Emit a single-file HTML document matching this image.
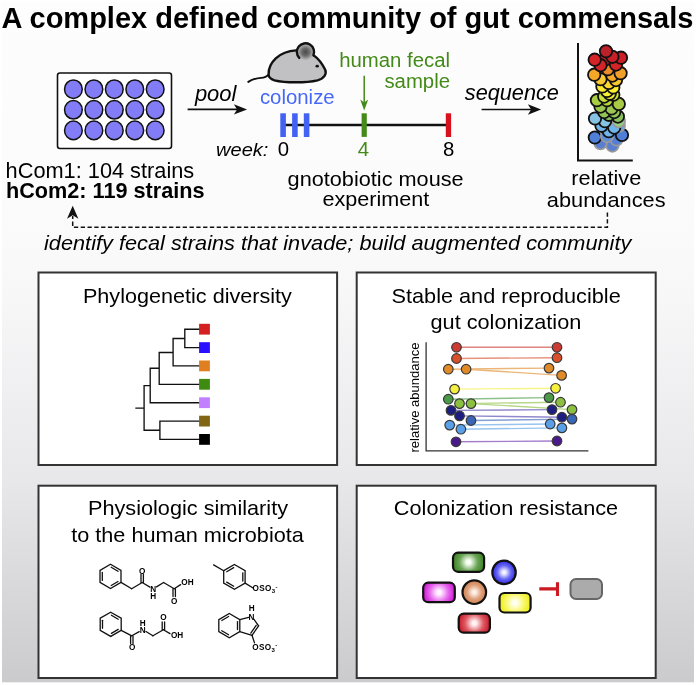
<!DOCTYPE html>
<html lang="en"><head><meta charset="utf-8"><title>A complex defined community of gut commensals</title>
<style>
html,body{margin:0;padding:0;background:#fff;}
body{width:696px;height:685px;overflow:hidden;}
svg{display:block;will-change:transform;font-family:"Liberation Sans",Arial,Helvetica,sans-serif;}
text{fill:#000;}
.t{font-size:20.85px;}
.p{font-size:20.9px;}
.s{font-size:19.5px;}
.i{font-style:italic;}
.b{font-weight:bold;}
.m{text-anchor:middle;}
.e{text-anchor:end;}
.chem{font-size:8.2px;font-weight:bold;}
.bond{stroke:#111;stroke-width:1.3;fill:none;stroke-linecap:round;}
.tree{stroke:#111;stroke-width:1.35;fill:none;stroke-linecap:square;}
</style></head><body>
<svg width="696" height="685" viewBox="0 0 696 685">
<defs>
<linearGradient id="bg" x1="0" y1="0" x2="0" y2="1">
<stop offset="0" stop-color="#fdfdfe"/>
<stop offset="0.3" stop-color="#fbfbfc"/>
<stop offset="0.42" stop-color="#f8f8f9"/>
<stop offset="0.7" stop-color="#e8e8ea"/>
<stop offset="1" stop-color="#cbcbce"/>
</linearGradient>
<radialGradient id="ear" cx="0.5" cy="0.5" r="0.5"><stop offset="0" stop-color="#4a4a4a"/><stop offset="0.45" stop-color="#6c6c6c"/><stop offset="0.9" stop-color="#b4b4b6"/><stop offset="1" stop-color="#c1c1c3"/></radialGradient>

</defs>
<rect x="2" y="2" width="692" height="680.3" fill="url(#bg)"/>
<text x="1.6" y="27.7" class="b" style="font-size:29px">A complex defined community of gut commensals</text>
<rect x="57.5" y="73" width="114" height="75.5" rx="2.5" fill="#fff" stroke="#111" stroke-width="1.6"/>
<ellipse cx="73.4" cy="89.2" rx="8.85" ry="9.3" fill="#827cf6" stroke="#111" stroke-width="1.5"/>
<ellipse cx="93.9" cy="89.2" rx="8.85" ry="9.3" fill="#827cf6" stroke="#111" stroke-width="1.5"/>
<ellipse cx="114.3" cy="89.2" rx="8.85" ry="9.3" fill="#827cf6" stroke="#111" stroke-width="1.5"/>
<ellipse cx="134.8" cy="89.2" rx="8.85" ry="9.3" fill="#827cf6" stroke="#111" stroke-width="1.5"/>
<ellipse cx="155.2" cy="89.2" rx="8.85" ry="9.3" fill="#827cf6" stroke="#111" stroke-width="1.5"/>
<ellipse cx="73.4" cy="109.8" rx="8.85" ry="9.3" fill="#827cf6" stroke="#111" stroke-width="1.5"/>
<ellipse cx="93.9" cy="109.8" rx="8.85" ry="9.3" fill="#827cf6" stroke="#111" stroke-width="1.5"/>
<ellipse cx="114.3" cy="109.8" rx="8.85" ry="9.3" fill="#827cf6" stroke="#111" stroke-width="1.5"/>
<ellipse cx="134.8" cy="109.8" rx="8.85" ry="9.3" fill="#827cf6" stroke="#111" stroke-width="1.5"/>
<ellipse cx="155.2" cy="109.8" rx="8.85" ry="9.3" fill="#827cf6" stroke="#111" stroke-width="1.5"/>
<ellipse cx="73.4" cy="130.4" rx="8.85" ry="9.3" fill="#827cf6" stroke="#111" stroke-width="1.5"/>
<ellipse cx="93.9" cy="130.4" rx="8.85" ry="9.3" fill="#827cf6" stroke="#111" stroke-width="1.5"/>
<ellipse cx="114.3" cy="130.4" rx="8.85" ry="9.3" fill="#827cf6" stroke="#111" stroke-width="1.5"/>
<ellipse cx="134.8" cy="130.4" rx="8.85" ry="9.3" fill="#827cf6" stroke="#111" stroke-width="1.5"/>
<ellipse cx="155.2" cy="130.4" rx="8.85" ry="9.3" fill="#827cf6" stroke="#111" stroke-width="1.5"/>
<text transform="translate(5.6,177.5) scale(1.022,1)" class="t" style="font-size:21.3px">hCom1: 104 strains</text>
<text transform="translate(6,198) scale(1.017,1)" class="t b" style="font-size:21.3px">hCom2: 119 strains</text>
<text transform="translate(194.9,100.85) scale(1.018,1)" class="t i" style="font-size:21.6px">pool</text>
<line x1="187.6" y1="109.4" x2="239.1" y2="109.4" stroke="#111" stroke-width="1.6"/>
<path d="M247.1,109.4 L233.9,104.2 L237.1,109.4 L233.9,114.60000000000001 Z" fill="#111"/>
<text transform="translate(464.8,99.9) scale(1.01,1)" class="t i" style="font-size:21.5px">sequence</text>
<line x1="481.6" y1="109.5" x2="533.1" y2="109.5" stroke="#111" stroke-width="1.6"/>
<path d="M541.1,109.5 L527.9,104.3 L531.1,109.5 L527.9,114.7 Z" fill="#111"/>
<path d="M248.3,81.9 C252,79.3 256,78.2 261,77.9 C264.5,77.7 267,76.5 268.8,74.3" fill="none" stroke="#111" stroke-width="1.9" stroke-linecap="round"/>
<path d="M268.6,74.5 C268.2,63 279,51.2 296,50.4 C310,49.8 319.5,58 325.2,69.8 C326.8,73.8 324.5,78.3 317.5,80.3 C306,83 285,82.9 274.5,80.3 C270.5,79 268.6,77.5 268.6,74.5 Z" fill="#c1c1c3" stroke="#111" stroke-width="2.4" stroke-linejoin="round"/>
<circle cx="305.5" cy="52" r="8.6" fill="url(#ear)"/>
<path d="M299.3,57.9 A8.6,8.6 0 1 1 313.4,55.3" fill="none" stroke="#111" stroke-width="2.4" stroke-linecap="round"/>
<ellipse cx="317.2" cy="66.2" rx="1.7" ry="1.35" fill="#111"/>
<text transform="translate(259.9,104) scale(1.046,1)" class="s" style="fill:#4668f5">colonize</text>
<line x1="284" y1="125.1" x2="448" y2="125.1" stroke="#111" stroke-width="2.5"/>
<rect x="280.3" y="113.3" width="5.6" height="23.7" fill="#4462f2"/>
<rect x="292.1" y="113.3" width="5.6" height="23.7" fill="#4462f2"/>
<rect x="303.8" y="113.3" width="5.6" height="23.7" fill="#4462f2"/>
<rect x="361.6" y="113.3" width="5.2" height="23.6" fill="#448a18"/>
<rect x="445.8" y="113.3" width="5.3" height="23.7" fill="#d8121c"/>
<text transform="translate(450,66.9) scale(1.044,1)" class="s e" style="fill:#448a18">human fecal</text>
<text transform="translate(450,88.4) scale(1.044,1)" class="s e" style="fill:#448a18">sample</text>
<path d="M364.2,75.8 L364.2,104" stroke="#448a18" stroke-width="1.5" fill="none"/>
<path d="M364.2,110.4 L360.2,99.4 L364.2,102.6 L368.2,99.4 Z" fill="#448a18"/>
<text transform="translate(268.4,155.8) scale(1.044,1)" class="s i e" style="font-size:19.2px">week:</text>
<text transform="translate(283.5,155.8) scale(1.044,1)" class="s m">0</text>
<text transform="translate(363.5,155.8) scale(1.044,1)" class="s m" style="fill:#448a18">4</text>
<text transform="translate(448.6,155.9) scale(1.044,1)" class="s m">8</text>
<text transform="translate(375.6,185.5) scale(1.041,1)" class="t m">gnotobiotic mouse</text>
<text transform="translate(375.8,206) scale(1.036,1)" class="t m">experiment</text>
<path d="M578,43 L578,160.5 L632.8,160.5" stroke="#111" stroke-width="2" fill="none"/>
<circle cx="612.4" cy="145.6" r="6.2" fill="#5b7fd0" stroke="#999" stroke-width="1.8"/>
<circle cx="600.5" cy="143.2" r="6.2" fill="#5b7fd0" stroke="#999" stroke-width="1.8"/>
<circle cx="616.5" cy="139.5" r="6.2" fill="#557fd4" stroke="#999" stroke-width="1.8"/>
<circle cx="594.8" cy="137.5" r="6.2" fill="#4f7fd6" stroke="#111" stroke-width="1.8"/>
<circle cx="622" cy="134.9" r="6.2" fill="#4f7fd6" stroke="#111" stroke-width="1.8"/>
<circle cx="607" cy="136" r="6.2" fill="#5b8fdc" stroke="#999" stroke-width="1.8"/>
<circle cx="608.8" cy="131.2" r="6.2" fill="#70b4e8" stroke="#111" stroke-width="1.8"/>
<circle cx="618.8" cy="125.8" r="6.2" fill="#6aa4e0" stroke="#999" stroke-width="1.8"/>
<circle cx="614.2" cy="127.6" r="6.2" fill="#70b4e8" stroke="#111" stroke-width="1.8"/>
<circle cx="601.5" cy="125.8" r="6.2" fill="#70b4e8" stroke="#111" stroke-width="1.8"/>
<circle cx="618.8" cy="121.2" r="6.2" fill="#98cc84" stroke="#999" stroke-width="1.8"/>
<circle cx="605" cy="121.2" r="6.2" fill="#86c2e2" stroke="#111" stroke-width="1.8"/>
<circle cx="595" cy="118.5" r="6.2" fill="#86c2e2" stroke="#111" stroke-width="1.8"/>
<circle cx="617.9" cy="116.6" r="6.2" fill="#8abf5e" stroke="#111" stroke-width="1.8"/>
<circle cx="608.8" cy="114.8" r="6.2" fill="#8abf5e" stroke="#111" stroke-width="1.8"/>
<circle cx="614.2" cy="112.1" r="6.2" fill="#92c458" stroke="#111" stroke-width="1.8"/>
<circle cx="604.2" cy="112.1" r="6.2" fill="#92c458" stroke="#111" stroke-width="1.8"/>
<circle cx="611.5" cy="108.4" r="6.2" fill="#9ac650" stroke="#111" stroke-width="1.8"/>
<circle cx="600.5" cy="106.6" r="6.2" fill="#9ac650" stroke="#111" stroke-width="1.8"/>
<circle cx="618.8" cy="103.9" r="6.2" fill="#a8ca44" stroke="#111" stroke-width="1.8"/>
<circle cx="607" cy="100.2" r="6.2" fill="#b4d83a" stroke="#111" stroke-width="1.8"/>
<circle cx="596.9" cy="100.2" r="6.2" fill="#a8cc42" stroke="#111" stroke-width="1.8"/>
<circle cx="604.2" cy="96.6" r="6.2" fill="#c8e038" stroke="#111" stroke-width="1.8"/>
<circle cx="613.3" cy="94.7" r="6.2" fill="#d4e434" stroke="#111" stroke-width="1.8"/>
<circle cx="609.7" cy="93.8" r="6.2" fill="#f0ec30" stroke="#111" stroke-width="1.8"/>
<circle cx="607" cy="91" r="6.2" fill="#f8f030" stroke="#111" stroke-width="1.8"/>
<circle cx="613.3" cy="87.4" r="6.2" fill="#fcf030" stroke="#111" stroke-width="1.8"/>
<circle cx="602.4" cy="86.5" r="6.2" fill="#fce830" stroke="#111" stroke-width="1.8"/>
<circle cx="608.8" cy="82.9" r="6.2" fill="#fcd830" stroke="#111" stroke-width="1.8"/>
<circle cx="616" cy="80.1" r="6.2" fill="#f8c830" stroke="#111" stroke-width="1.8"/>
<circle cx="600.5" cy="79.2" r="6.2" fill="#f8c830" stroke="#111" stroke-width="1.8"/>
<circle cx="612.4" cy="75.6" r="6.2" fill="#f4a828" stroke="#111" stroke-width="1.8"/>
<circle cx="594.2" cy="74.7" r="6.2" fill="#f4a828" stroke="#111" stroke-width="1.8"/>
<circle cx="620.6" cy="73.2" r="6.2" fill="#f0a028" stroke="#111" stroke-width="1.8"/>
<circle cx="607.8" cy="69.2" r="6.2" fill="#ec8c28" stroke="#111" stroke-width="1.8"/>
<circle cx="604.5" cy="60" r="6.2" fill="#cc2028" stroke="#111" stroke-width="1.8"/>
<circle cx="616" cy="64.6" r="6.2" fill="#d42428" stroke="#111" stroke-width="1.8"/>
<circle cx="600.5" cy="65.2" r="6.2" fill="#d42428" stroke="#111" stroke-width="1.8"/>
<circle cx="594.7" cy="59.7" r="6.2" fill="#d42428" stroke="#111" stroke-width="1.8"/>
<circle cx="621" cy="57.7" r="6.2" fill="#cc2028" stroke="#111" stroke-width="1.8"/>
<circle cx="612.4" cy="56.8" r="6.2" fill="#c82028" stroke="#111" stroke-width="1.8"/>
<circle cx="606" cy="51.3" r="6.2" fill="#bc2028" stroke="#111" stroke-width="1.8"/>
<text transform="translate(606.3,185.1) scale(1.04,1)" class="t m">relative</text>
<text transform="translate(606.2,206.6) scale(1.045,1)" class="t m">abundances</text>
<path d="M607.4,212.4 L607.4,227.2 L72.7,227.2 L72.7,216" stroke="#111" stroke-width="1.5" fill="none" stroke-dasharray="4.3 2.5"/>
<path d="M72.7,205.7 L78.4,218.7 L72.7,215.2 L67,218.7 Z" fill="#111"/>
<text transform="translate(44,249.5) scale(1.043,1)" class="t i">identify fecal strains that invade; build augmented community</text>
<rect x="38.5" y="272.5" width="298.6" height="192.5" fill="#fff" stroke="#333" stroke-width="2"/>
<rect x="356.7" y="272.5" width="299" height="192.5" fill="#fff" stroke="#333" stroke-width="2"/>
<rect x="38.5" y="485.7" width="298.6" height="192.3" fill="#fff" stroke="#333" stroke-width="2"/>
<rect x="356.7" y="485.7" width="299" height="192.3" fill="#fff" stroke="#333" stroke-width="2"/>
<text transform="translate(187.4,302.9) scale(1.034,1)" class="p m">Phylogenetic diversity</text>
<text transform="translate(506.1,302.8) scale(1.039,1)" class="p m">Stable and reproducible</text>
<text transform="translate(505.9,329.1) scale(1.039,1)" class="p m">gut colonization</text>
<text transform="translate(188,515.4) scale(1.038,1)" class="p m">Physiologic similarity</text>
<text transform="translate(187.5,541.7) scale(1.038,1)" class="p m">to the human microbiota</text>
<text transform="translate(506,515.4) scale(1.038,1)" class="p m">Colonization resistance</text>
<path class="tree" d="M199.5,329.2 H184.8 V347.6 H199.5 M184.8,338.5 H173.1 V365.9 H199.5 M173.1,352.5 H159.2 V384.3 H199.5 M159.2,368.2 H150.2 V402.7 H199.5 M150.2,385.6 H144.1 V430.2 H159.9 M136,408.1 H144.1 M199.5,421.1 H159.9 V439.4 H199.5"/>
<rect x="199.1" y="323.8" width="10.8" height="10.8" fill="#d42020"/>
<rect x="199.1" y="342.2" width="10.8" height="10.8" fill="#2a10ff"/>
<rect x="199.1" y="360.5" width="10.8" height="10.8" fill="#e07f20"/>
<rect x="199.1" y="378.9" width="10.8" height="10.8" fill="#3f8a10"/>
<rect x="199.1" y="397.3" width="10.8" height="10.8" fill="#c080ff"/>
<rect x="199.1" y="415.7" width="10.8" height="10.8" fill="#806515"/>
<rect x="199.1" y="434.0" width="10.8" height="10.8" fill="#000"/>
<path d="M426.1,342.3 L426.1,450.9 L588.4,450.9" stroke="#333" stroke-width="1.3" fill="none"/>
<text transform="translate(418.5,452.5) rotate(-90)" style="font-size:13px">relative abundance</text>
<line x1="456.5" y1="347.3" x2="557" y2="347.3" stroke="#df847f" stroke-width="1.4"/>
<line x1="456.5" y1="358.5" x2="557" y2="357.7" stroke="#e7927a" stroke-width="1.4"/>
<line x1="448.3" y1="369.2" x2="549" y2="368.1" stroke="#ebb679" stroke-width="1.4"/>
<line x1="466.1" y1="369.2" x2="561.6" y2="375.4" stroke="#ebb679" stroke-width="1.4"/>
<line x1="454.6" y1="389.1" x2="555.6" y2="388.3" stroke="#f8f588" stroke-width="1.4"/>
<line x1="448.3" y1="399.2" x2="549" y2="397.6" stroke="#8ec08d" stroke-width="1.4"/>
<line x1="459.5" y1="403.6" x2="560.5" y2="402.2" stroke="#b7d788" stroke-width="1.4"/>
<line x1="471" y1="403.6" x2="572" y2="409.6" stroke="#b7d788" stroke-width="1.4"/>
<line x1="451" y1="410.4" x2="552" y2="409.6" stroke="#9088cc" stroke-width="1.4"/>
<line x1="459.5" y1="415.9" x2="561.9" y2="417.2" stroke="#9088cc" stroke-width="1.4"/>
<line x1="471" y1="420.5" x2="572" y2="419.1" stroke="#84a0d2" stroke-width="1.4"/>
<line x1="449.7" y1="425.1" x2="550.2" y2="424.0" stroke="#98c4f0" stroke-width="1.4"/>
<line x1="460.9" y1="429.2" x2="561.9" y2="427.9" stroke="#98c4f0" stroke-width="1.4"/>
<line x1="456" y1="441.8" x2="557" y2="441.0" stroke="#a47ccc" stroke-width="1.4"/>
<circle cx="456.5" cy="347.3" r="4.8" fill="#cc3a32" stroke="#3a3a3a" stroke-width="1.2"/>
<circle cx="557" cy="347.3" r="4.8" fill="#cc3a32" stroke="#3a3a3a" stroke-width="1.2"/>
<circle cx="456.5" cy="358.5" r="4.8" fill="#d9502a" stroke="#3a3a3a" stroke-width="1.2"/>
<circle cx="557" cy="357.7" r="4.8" fill="#d9502a" stroke="#3a3a3a" stroke-width="1.2"/>
<circle cx="448.3" cy="369.2" r="4.8" fill="#e08a28" stroke="#3a3a3a" stroke-width="1.2"/>
<circle cx="549" cy="368.1" r="4.8" fill="#e08a28" stroke="#3a3a3a" stroke-width="1.2"/>
<circle cx="466.1" cy="369.2" r="4.8" fill="#e08a28" stroke="#3a3a3a" stroke-width="1.2"/>
<circle cx="561.6" cy="375.4" r="4.8" fill="#e08a28" stroke="#3a3a3a" stroke-width="1.2"/>
<circle cx="454.6" cy="389.1" r="4.8" fill="#f5f040" stroke="#3a3a3a" stroke-width="1.2"/>
<circle cx="555.6" cy="388.3" r="4.8" fill="#f5f040" stroke="#3a3a3a" stroke-width="1.2"/>
<circle cx="448.3" cy="399.2" r="4.8" fill="#4a9a48" stroke="#3a3a3a" stroke-width="1.2"/>
<circle cx="549" cy="397.6" r="4.8" fill="#4a9a48" stroke="#3a3a3a" stroke-width="1.2"/>
<circle cx="459.5" cy="403.6" r="4.8" fill="#8cc040" stroke="#3a3a3a" stroke-width="1.2"/>
<circle cx="560.5" cy="402.2" r="4.8" fill="#8cc040" stroke="#3a3a3a" stroke-width="1.2"/>
<circle cx="471" cy="403.6" r="4.8" fill="#8cc040" stroke="#3a3a3a" stroke-width="1.2"/>
<circle cx="572" cy="409.6" r="4.8" fill="#8cc040" stroke="#3a3a3a" stroke-width="1.2"/>
<circle cx="451" cy="410.4" r="4.8" fill="#1e1e80" stroke="#3a3a3a" stroke-width="1.2"/>
<circle cx="552" cy="409.6" r="4.8" fill="#1e1e80" stroke="#3a3a3a" stroke-width="1.2"/>
<circle cx="459.5" cy="415.9" r="4.8" fill="#1e1e80" stroke="#3a3a3a" stroke-width="1.2"/>
<circle cx="561.9" cy="417.2" r="4.8" fill="#1e1e80" stroke="#3a3a3a" stroke-width="1.2"/>
<circle cx="471" cy="420.5" r="4.8" fill="#3a66b8" stroke="#3a3a3a" stroke-width="1.2"/>
<circle cx="572" cy="419.1" r="4.8" fill="#3a66b8" stroke="#3a3a3a" stroke-width="1.2"/>
<circle cx="449.7" cy="425.1" r="4.8" fill="#5aa0e8" stroke="#3a3a3a" stroke-width="1.2"/>
<circle cx="550.2" cy="424.0" r="4.8" fill="#5aa0e8" stroke="#3a3a3a" stroke-width="1.2"/>
<circle cx="460.9" cy="429.2" r="4.8" fill="#5aa0e8" stroke="#3a3a3a" stroke-width="1.2"/>
<circle cx="561.9" cy="427.9" r="4.8" fill="#5aa0e8" stroke="#3a3a3a" stroke-width="1.2"/>
<circle cx="456" cy="441.8" r="4.8" fill="#4a1a8a" stroke="#3a3a3a" stroke-width="1.2"/>
<circle cx="557" cy="441.0" r="4.8" fill="#4a1a8a" stroke="#3a3a3a" stroke-width="1.2"/>
<path class="bond" d="M110.5,564.3 L121.0,570.4 L121.0,582.4 L110.5,588.5 L100.0,582.4 L100.0,570.4 Z"/>
<line class="bond" x1="111.2" y1="567.3" x2="118.0" y2="571.3"/>
<line class="bond" x1="118.0" y1="581.5" x2="111.2" y2="585.5"/>
<line class="bond" x1="102.3" y1="580.4" x2="102.3" y2="572.4"/>
<line class="bond" x1="121.0" y1="582.4" x2="131.7" y2="588.7"/>
<line class="bond" x1="131.7" y1="588.7" x2="142.2" y2="582.5"/>
<line class="bond" x1="143.4" y1="582.5" x2="143.4" y2="574.5"/>
<line class="bond" x1="141.0" y1="582.5" x2="141.0" y2="574.5"/>
<text class="chem" x="142.3" y="573.5" text-anchor="middle">O</text>
<line class="bond" x1="142.2" y1="582.5" x2="149.9" y2="587.1"/>
<text class="chem" x="153.3" y="591.8" text-anchor="middle">N</text>
<text class="chem" x="153.3" y="598.7" text-anchor="middle">H</text>
<line class="bond" x1="156.5" y1="586.9" x2="163.6" y2="582.5"/>
<line class="bond" x1="163.6" y1="582.5" x2="174.2" y2="588.7"/>
<line class="bond" x1="173.0" y1="588.7" x2="173.0" y2="596.5"/>
<line class="bond" x1="175.4" y1="588.7" x2="175.4" y2="596.5"/>
<text class="chem" x="174.3" y="603.6" text-anchor="middle">O</text>
<line class="bond" x1="174.2" y1="588.7" x2="180.6" y2="584.6"/>
<text class="chem" x="181.3" y="585.0" text-anchor="start">OH</text>
<path class="bond" d="M110.7,612.2 L121.2,618.2 L121.2,630.3 L110.7,636.4 L100.2,630.3 L100.2,618.2 Z"/>
<line class="bond" x1="111.4" y1="615.2" x2="118.2" y2="619.2"/>
<line class="bond" x1="118.2" y1="629.4" x2="111.4" y2="633.4"/>
<line class="bond" x1="102.5" y1="628.3" x2="102.5" y2="620.3"/>
<line class="bond" x1="121.2" y1="630.3" x2="131.8" y2="635.8"/>
<line class="bond" x1="130.6" y1="635.8" x2="130.6" y2="643.4"/>
<line class="bond" x1="133.0" y1="635.8" x2="133.0" y2="643.4"/>
<text class="chem" x="132.1" y="650.1" text-anchor="middle">O</text>
<line class="bond" x1="131.8" y1="635.8" x2="139.2" y2="631.6"/>
<text class="chem" x="142.7" y="632.7" text-anchor="middle">N</text>
<text class="chem" x="142.7" y="625.5" text-anchor="middle">H</text>
<line class="bond" x1="146.0" y1="631.5" x2="152.9" y2="635.8"/>
<line class="bond" x1="152.9" y1="635.8" x2="163.4" y2="629.7"/>
<line class="bond" x1="164.6" y1="629.7" x2="164.6" y2="621.9"/>
<line class="bond" x1="162.2" y1="629.7" x2="162.2" y2="621.9"/>
<text class="chem" x="163.5" y="620.0" text-anchor="middle">O</text>
<line class="bond" x1="163.4" y1="629.7" x2="170.0" y2="633.6"/>
<text class="chem" x="170.9" y="638.2" text-anchor="start">OH</text>
<path class="bond" d="M234.4,564.5 L245.1,570.7 L245.1,583.1 L234.4,589.3 L223.7,583.1 L223.7,570.7 Z"/>
<line class="bond" x1="242.8" y1="572.8" x2="242.8" y2="581.0"/>
<line class="bond" x1="233.7" y1="586.2" x2="226.7" y2="582.1"/>
<line class="bond" x1="226.7" y1="571.7" x2="233.7" y2="567.6"/>
<line class="bond" x1="223.7" y1="570.7" x2="213.6" y2="564.9"/>
<line class="bond" x1="245.1" y1="583.1" x2="253.1" y2="588.0"/>
<text class="chem" x="252.4" y="591.4" style="letter-spacing:0.4px">OSO<tspan dy="1.6" style="font-size:6px">3</tspan><tspan dy="-4.5" style="font-size:6px">-</tspan></text>
<g transform="translate(0.2,0.7)">
<path class="bond" d="M229.1,612.8 L239.6,618.9 L239.6,630.9 L229.1,637.0 L218.6,630.9 L218.6,618.9 Z"/>
<line class="bond" x1="237.3" y1="620.9" x2="237.3" y2="628.9"/>
<line class="bond" x1="228.4" y1="634.0" x2="221.6" y2="630.0"/>
<line class="bond" x1="221.6" y1="619.8" x2="228.4" y2="615.8"/>
<line class="bond" x1="239.6" y1="618.9" x2="248.4" y2="616.6"/>
<text class="chem" x="251.3" y="619.0" text-anchor="middle">N</text>
<text class="chem" x="251.4" y="610.6" text-anchor="middle">H</text>
<line class="bond" x1="253.6" y1="618.4" x2="258.4" y2="625.1"/>
<line class="bond" x1="258.4" y1="625.1" x2="251.8" y2="634.6"/>
<line class="bond" x1="256.0" y1="624.6" x2="250.6" y2="632.4"/>
<line class="bond" x1="251.8" y1="634.6" x2="239.6" y2="630.9"/>
<line class="bond" x1="251.8" y1="634.6" x2="254.3" y2="642.2"/>
</g>
<text class="chem" x="252.2" y="650.1" style="letter-spacing:0.4px">OSO<tspan dy="1.6" style="font-size:6px">3</tspan><tspan dy="-4.5" style="font-size:6px">-</tspan></text>
<radialGradient id="g1" gradientUnits="userSpaceOnUse" cx="468.5" cy="562.2" r="16.7"><stop offset="0" stop-color="#f8fff4"/><stop offset="0.12" stop-color="#f8fff4"/><stop offset="0.55" stop-color="#6aa555"/><stop offset="1" stop-color="#357a1c"/></radialGradient>
<rect x="453.0" y="552.7" width="31.1" height="19.1" rx="5" fill="url(#g1)" stroke="#111" stroke-width="2.2"/>
<radialGradient id="g2" gradientUnits="userSpaceOnUse" cx="504.1" cy="572.4" r="12.8"><stop offset="0" stop-color="#f2f2ff"/><stop offset="0.12" stop-color="#f2f2ff"/><stop offset="0.55" stop-color="#6464f6"/><stop offset="1" stop-color="#2a1edc"/></radialGradient>
<circle cx="504.05" cy="572.4" r="11.7" fill="url(#g2)" stroke="#111" stroke-width="2.2"/>
<radialGradient id="g3" gradientUnits="userSpaceOnUse" cx="439.0" cy="592.5" r="16.9"><stop offset="0" stop-color="#fff2ff"/><stop offset="0.12" stop-color="#fff2ff"/><stop offset="0.55" stop-color="#e868ee"/><stop offset="1" stop-color="#c80ccc"/></radialGradient>
<rect x="423.2" y="582.7" width="31.6" height="19.5" rx="5" fill="url(#g3)" stroke="#111" stroke-width="2.2"/>
<radialGradient id="g4" gradientUnits="userSpaceOnUse" cx="474.3" cy="592.2" r="12.9"><stop offset="0" stop-color="#fdf2ea"/><stop offset="0.12" stop-color="#fdf2ea"/><stop offset="0.55" stop-color="#dfa07a"/><stop offset="1" stop-color="#ca7846"/></radialGradient>
<circle cx="474.3" cy="592.2" r="11.8" fill="url(#g4)" stroke="#111" stroke-width="2.2"/>
<radialGradient id="g5" gradientUnits="userSpaceOnUse" cx="515.0" cy="602.8" r="16.7"><stop offset="0" stop-color="#fffff2"/><stop offset="0.12" stop-color="#fffff2"/><stop offset="0.55" stop-color="#f8f868"/><stop offset="1" stop-color="#eaea0c"/></radialGradient>
<rect x="499.5" y="593.0" width="31.1" height="19.5" rx="5" fill="url(#g5)" stroke="#111" stroke-width="2.2"/>
<radialGradient id="g6" gradientUnits="userSpaceOnUse" cx="474.3" cy="623.2" r="16.7"><stop offset="0" stop-color="#fff2f2"/><stop offset="0.12" stop-color="#fff2f2"/><stop offset="0.55" stop-color="#df5a64"/><stop offset="1" stop-color="#c21222"/></radialGradient>
<rect x="458.7" y="613.7" width="31.2" height="19.0" rx="5" fill="url(#g6)" stroke="#111" stroke-width="2.2"/>
<path d="M539.3,588.9 H557.5 M557.5,582.2 V596" stroke="#cc1a22" stroke-width="3.1" fill="none"/>
<rect x="570.5" y="579.0" width="31.5" height="20.0" rx="5.5" fill="#ababab" stroke="#666" stroke-width="2"/>
</svg></body></html>
